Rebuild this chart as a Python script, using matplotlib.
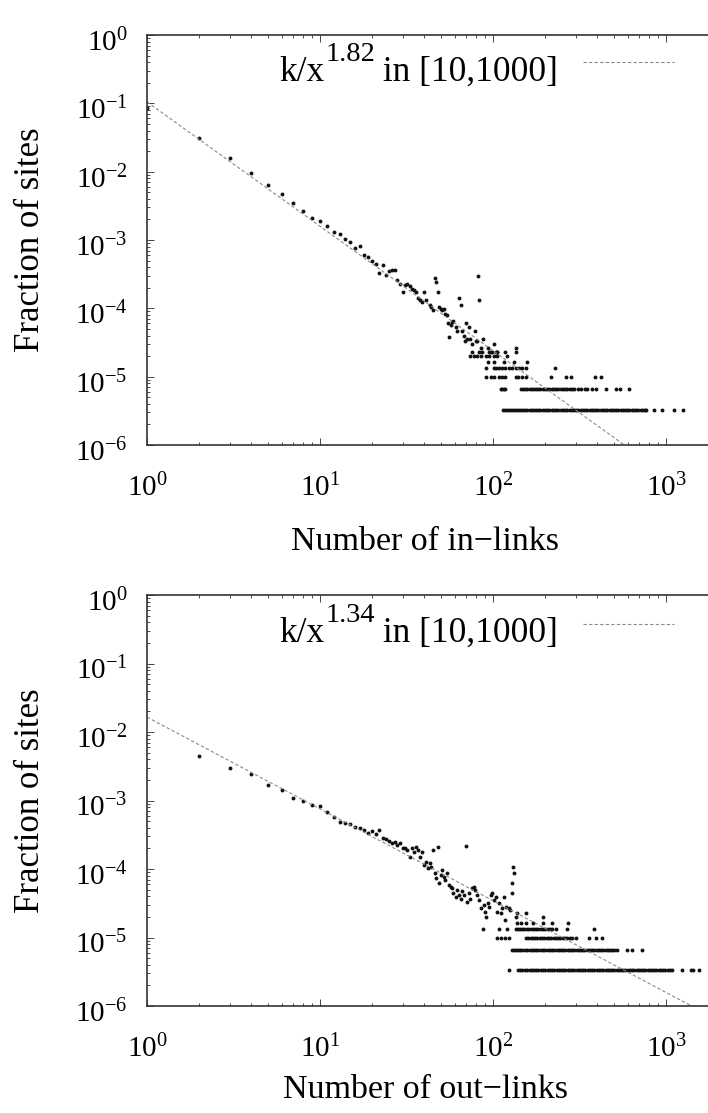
import numpy as np
import matplotlib
matplotlib.use("Agg")
import matplotlib.pyplot as plt
from matplotlib.ticker import LogLocator, NullFormatter, FuncFormatter
from matplotlib.transforms import IdentityTransform, ScaledTranslation

plt.rcParams['font.family'] = ['Liberation Serif', 'DejaVu Serif']
plt.rcParams['mathtext.fontset'] = 'custom'
plt.rcParams['mathtext.rm'] = 'Liberation Serif'
plt.rcParams['mathtext.it'] = 'Liberation Serif:italic'
plt.rcParams['mathtext.bf'] = 'Liberation Serif:bold'
plt.rcParams['ytick.alignment'] = 'center'
try:  # raise superscripts a little, gnuplot style
    import matplotlib._mathtext as _mt
    _mt.FontConstantsBase.subdrop = 0.15
except Exception:
    pass

# ---------------- data: in-links (top panel) ----------------
in_x = [1, 2, 3, 4, 5, 6, 7, 8, 9, 10, 11, 12, 13, 14, 15, 16, 17, 18, 19, 20,
        21, 22, 23, 24, 25, 26, 27, 28, 29, 30, 31, 32, 33, 34, 35, 36, 37, 38,
        39, 40, 41, 43, 44, 45, 46, 47, 48, 49, 50, 51, 52, 53, 54, 55, 56, 57,
        58, 59, 61, 62, 64, 65, 66, 68, 69, 70, 71, 73, 74, 76, 79, 80, 81, 82,
        83, 85, 87, 93, 97, 102, 104, 106, 118, 135]
in_y = [0.085, 0.031, 0.016, 0.0097, 0.0064, 0.0047, 0.0035, 0.0027, 0.0021,
        0.0019, 0.0016, 0.0013, 0.00123, 0.00105, 0.00095, 7.6e-4, 8.3e-4,
        6.0e-4, 5.6e-4, 5.0e-4, 4.5e-4, 3.3e-4, 4.3e-4, 3.1e-4, 3.5e-4, 3.6e-4,
        3.7e-4, 2.6e-4, 2.3e-4, 1.75e-4, 2.2e-4, 2.3e-4, 2.1e-4, 1.95e-4,
        1.85e-4, 1.75e-4, 1.4e-4, 1.32e-4, 1.25e-4, 1.75e-4, 1.32e-4, 1.11e-4,
        1.05e-4, 9.4e-5, 2.74e-4, 2.44e-4, 1.75e-4, 1.05e-4, 9.9e-5, 9.4e-5,
        9.9e-5, 8.4e-5, 7.9e-5, 6.0e-5, 3.8e-5, 5.7e-5, 6.3e-5, 6.6e-5, 5.3e-5,
        4.6e-5, 1.4e-4, 1.11e-4, 4.6e-5, 4.0e-5, 3.3e-5, 6.0e-5, 3.6e-5, 5.3e-5,
        3.6e-5, 3.0e-5, 4.6e-5, 3.3e-5, 3.3e-5, 3.0e-4, 1.32e-4, 2.6e-5, 3.6e-5,
        2.6e-5, 2.3e-5, 3.0e-5, 2.3e-5, 2.3e-5, 2.3e-5, 2.6e-5]

in_row1_x = [114, 117, 121, 124, 127, 130, 134, 138, 142, 146, 150, 154, 158,
             163, 168, 173, 178, 183, 188, 194, 200, 206, 212, 218, 225, 232,
             239, 246, 253, 261, 269, 277, 285, 294, 303, 312, 321, 331, 341,
             351, 362, 373, 384, 395, 407, 419, 432, 445, 458, 472, 486, 501,
             516, 531, 547, 563, 580, 597, 615, 633, 652, 672, 692, 713, 734,
             756, 766, 852, 948, 1112, 1259]
in_row2_x = [111, 113, 115, 117, 146, 150, 154, 158, 163, 168, 173, 178, 183,
             188, 194, 200, 206, 212, 218, 225, 232, 239, 246, 253, 261, 269,
             277, 285, 294, 312, 321, 341, 351, 373, 395, 450, 514, 542, 611]
in_row3_x = [91, 97, 101, 108, 113, 117, 135, 140, 148, 155, 217, 263, 281, 389, 419]
in_row4_x = [91, 101, 104, 108, 113, 118, 124, 129, 135, 141, 148, 155, 228]
in_row5_x = [93, 101, 116, 132, 158]
in_row6_x = [74, 78, 81, 85, 91, 95, 101, 106, 120]
in_row7_x = [76, 83, 86, 95, 99, 105, 136]
in_row_levels = [3.3e-6, 6.6e-6, 9.9e-6, 1.32e-5, 1.65e-5, 1.98e-5, 2.31e-5]
in_fit_k = 0.105
in_fit_exp = 1.82

# ---------------- data: out-links (bottom panel) ----------------
out_x = [2, 3, 4, 5, 6, 7, 8, 9, 10, 11, 12, 13, 14, 15, 16, 17, 18, 19, 20,
         21, 22, 23, 24, 25, 26, 27, 28, 29, 30, 31, 32, 33, 34, 35, 36, 37, 38,
         39, 40, 41, 42, 43, 44, 45, 46, 47, 48, 49, 50, 51, 52, 53, 54, 56,
         57, 58, 59, 61, 62, 64, 65, 66, 68, 70, 71, 73, 74, 76, 78, 79, 81,
         83, 85, 89, 90, 91, 93, 95, 97, 99, 101, 104, 106, 108, 111, 113, 116,
         117, 119, 124, 126, 128, 129, 131, 132, 135, 138, 156, 195]
out_y = [0.00445, 0.00297, 0.00246, 0.00169, 0.0014, 0.00109, 0.00098, 0.00085,
         0.00082, 6.7e-4, 5.8e-4, 4.8e-4, 4.7e-4, 4.6e-4, 4.1e-4, 4.0e-4,
         3.7e-4, 3.4e-4, 3.6e-4, 3.2e-4, 3.7e-4, 2.8e-4, 2.7e-4, 2.6e-4,
         2.37e-4, 2.5e-4, 2.24e-4, 2.42e-4, 2.0e-4, 2.0e-4, 1.89e-4, 1.51e-4,
         2.0e-4, 1.79e-4, 2.12e-4, 1.89e-4, 1.5e-4, 1.79e-4, 1.14e-4, 1.28e-4,
         1.02e-4, 1.21e-4, 1.08e-4, 1.89e-4, 8.6e-5, 7.3e-5, 2.12e-4, 6.2e-5,
         8.2e-5, 9.7e-5, 7.7e-5, 6.9e-5, 8.6e-5, 5.8e-5, 5.5e-5, 5.2e-5, 4.4e-5,
         3.9e-5, 4.9e-5, 4.2e-5, 3.7e-5, 4.7e-5, 4.2e-5, 2.17e-4, 3.3e-5,
         4.4e-5, 3.7e-5, 5.2e-5, 5.5e-5, 4.9e-5, 4.2e-5, 3.5e-5, 2.67e-5,
         3.0e-5, 2.38e-5, 2.0e-5, 3.15e-5, 2.8e-5, 4.2e-5, 4.4e-5, 3.5e-5,
         3.9e-5, 2.38e-5, 3.15e-5, 2.25e-5, 2.67e-5, 3.9e-5, 1.8e-5, 2.8e-5,
         2.67e-5, 2.5e-5, 4.4e-5, 6.2e-5, 1.06e-4, 8.8e-5, 2.0e-5, 2.25e-5,
         2.25e-5, 2.0e-5]

out_row1_x = [124, 140, 144, 148, 153, 158, 163, 168, 173, 178, 183, 189, 195,
              201, 207, 213, 219, 226, 233, 240, 247, 254, 262, 270, 278, 286,
              295, 304, 313, 322, 332, 342, 352, 363, 374, 385, 397, 409, 421,
              434, 447, 460, 474, 488, 503, 518, 534, 550, 566, 583, 600, 618,
              637, 656, 676, 696, 717, 738, 760, 783, 806, 830, 855, 881, 907,
              934, 962, 991, 1021, 1052, 1083, 1245, 1390, 1435, 1560]
out_row2_x = [128, 132, 136, 140, 144, 148, 153, 158, 163, 168, 173, 178, 183,
              189, 195, 201, 207, 213, 219, 226, 233, 240, 247, 254, 262, 270,
              278, 286, 295, 304, 313, 322, 332, 342, 352, 363, 374, 385, 397,
              409, 421, 434, 447, 460, 474, 488, 503, 518, 598, 638, 730]
out_row3_x = [106, 111, 117, 124, 155, 160, 165, 170, 175, 180, 186, 192, 198,
              204, 210, 217, 224, 231, 238, 245, 253, 261, 269, 277, 285, 301,
              359, 393, 425]
out_row4_x = [87, 108, 121, 135, 139, 143, 147, 152, 157, 162, 167, 172, 177,
              183, 189, 195, 201, 207, 213, 220, 230, 269, 383]
out_row5_x = [138, 145, 155, 170, 195, 220, 272]
out_row_levels = [3.3e-6, 6.6e-6, 9.9e-6, 1.32e-5, 1.65e-5]
out_fit_k = 0.0165
out_fit_exp = 1.34

# ---------------- figure ----------------
W, H = 708, 1113
fig = plt.figure(figsize=(W / 100, H / 100), dpi=100)
XMAX = 2000.0
DEC = 173.0  # px per decade on x
DOT = dict(ls='none', marker='o', ms=2.8, mew=0, color='#111111')
FIT = dict(ls=(0, (3, 2)), lw=0.8, color='#8a8a8a')


def make_axes(top_px, bottom_px):
    left = 147 / W
    width = DEC * np.log10(XMAX) / W
    return fig.add_axes([left, 1 - bottom_px / H, width, (bottom_px - top_px) / H])


def fmt(v, pos):
    e = int(round(np.log10(v)))
    return r'$10^{%d}$' % e


def style(ax):
    ax.set_xscale('log')
    ax.set_yscale('log')
    ax.set_xlim(1, XMAX)
    ax.set_ylim(1e-6, 1)
    ax.xaxis.set_major_locator(LogLocator(base=10, numticks=10))
    ax.yaxis.set_major_locator(LogLocator(base=10, numticks=10))
    ax.xaxis.set_minor_locator(LogLocator(base=10, subs=np.arange(2, 10), numticks=20))
    ax.yaxis.set_minor_locator(LogLocator(base=10, subs=np.arange(2, 10), numticks=20))
    ax.xaxis.set_major_formatter(FuncFormatter(fmt))
    ax.yaxis.set_major_formatter(FuncFormatter(fmt))
    ax.xaxis.set_minor_formatter(NullFormatter())
    ax.yaxis.set_minor_formatter(NullFormatter())
    ax.tick_params(which='both', direction='in', top=True, right=True,
                   color='#444444', width=0.7)
    ax.tick_params(which='major', length=5)
    ax.tick_params(which='minor', length=2.5)
    ax.tick_params(axis='x', which='major', labelsize=21, pad=21)
    ax.tick_params(axis='y', which='major', labelsize=21, pad=14)
    for s in ax.spines.values():
        s.set_color('#333333')
        s.set_linewidth(1.2)
    # gnuplot-like: y labels sit a little below their tick
    shift = ScaledTranslation(0, -8 / 100, fig.dpi_scale_trans)
    for t in ax.yaxis.get_major_ticks():
        t.label1.set_transform(t.label1.get_transform() + shift)


def key(ax, base, sup, rest, line_y, base_y):
    ax.plot([0.764, 0.923], [line_y, line_y], transform=ax.transAxes, **FIT)
    r = fig.canvas.get_renderer()
    t3 = ax.text(0.7198, base_y, rest, transform=ax.transAxes, ha='right',
                 va='baseline', fontsize=25.5)
    bb = t3.get_window_extent(renderer=r)
    ypx = ax.transAxes.transform((0.0, base_y))[1]
    t2 = ax.text(bb.x0 + 1, ypx + 20, sup, transform=IdentityTransform(),
                 ha='right', va='baseline', fontsize=20.5)
    bb2 = t2.get_window_extent(renderer=r)
    ax.text(bb2.x0 - 1, ypx, base, transform=IdentityTransform(), ha='right',
            va='baseline', fontsize=25.5)


def draw(ax, xs, ys, rows, levels, k, a, sup, xlabel, line_y, base_y):
    style(ax)
    ax.plot(xs, ys, **DOT)
    for rx, lv in zip(rows, levels):
        ax.plot(rx, [lv] * len(rx), **DOT)
    fx = [1.0, XMAX]
    fy = [k * v ** (-a) for v in fx]
    ax.plot(fx, fy, **FIT)
    key(ax, 'k/x', sup, ' in [10,1000]', line_y, base_y)
    ax.set_ylabel('Fraction of sites', fontsize=25)
    ax.yaxis.set_label_coords(-0.175, 0.5)
    ax.set_xlabel(xlabel, fontsize=24.5)


ax1 = make_axes(35, 445)
draw(ax1, in_x, in_y,
     [in_row1_x, in_row2_x, in_row3_x, in_row4_x, in_row5_x, in_row6_x, in_row7_x],
     in_row_levels, in_fit_k, in_fit_exp,
     '1.82', 'Number of in\u2212links', 0.934, 0.888)
ax1.xaxis.set_label_coords(0.487, -0.200)

ax2 = make_axes(595, 1006)
draw(ax2, out_x, out_y,
     [out_row1_x, out_row2_x, out_row3_x, out_row4_x, out_row5_x],
     out_row_levels, out_fit_k, out_fit_exp,
     '1.34', 'Number of out\u2212links', 0.929, 0.886)
ax2.xaxis.set_label_coords(0.487, -0.167)

fig.savefig('out.png', dpi=100)
